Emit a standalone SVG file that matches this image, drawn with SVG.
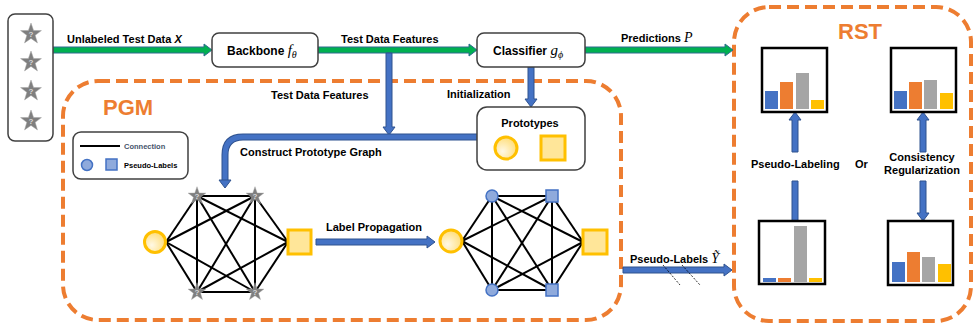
<svg xmlns="http://www.w3.org/2000/svg" width="977" height="327" viewBox="0 0 977 327">
<style>
text{font-family:"Liberation Sans",Arial,sans-serif;font-weight:bold;fill:#000}
.lbl{font-size:11px}
.box{fill:#fff;stroke:#404040;stroke-width:1.5}
.dash{fill:none;stroke:#ED7D31;stroke-width:4;stroke-dasharray:12 6}
.ttl{font-size:22px;fill:#ED7D31}
.green{fill:#00B050;stroke:#2E6B8F;stroke-width:1}
.blue{fill:#4472C4;stroke:#2F528F;stroke-width:1}
.edge{stroke:#000;stroke-width:2;fill:none}
.proto{fill:url(#pg);stroke:#FFC000;stroke-width:3}
.psq{fill:#FFE699;stroke:#FFC000;stroke-width:3}
.bn{fill:#8FAADC;stroke:#4472C4;stroke-width:1.5}
.chart{fill:#fff;stroke:#000;stroke-width:2.5}
.q{font-size:8px;fill:#D9D9D9;text-anchor:middle}
.math{font-family:"Liberation Serif","Times New Roman",serif;font-style:italic;font-weight:normal}
</style>
<defs>
<radialGradient id="pg" cx="0.35" cy="0.65" r="0.8">
<stop offset="0" stop-color="#FFF8E5"/>
<stop offset="1" stop-color="#FFD966"/>
</radialGradient>
<path id="star" d="M0,-11 L2.59,-3.56 L10.46,-3.4 L4.18,1.36 L6.47,8.9 L0,4.4 L-6.47,8.9 L-4.18,1.36 L-10.46,-3.4 L-2.59,-3.56Z" fill="#7F7F7F" stroke="#A6A6A6" stroke-width="0.5"/>
</defs>

<rect x="0" y="0" width="977" height="327" fill="#fff"/>

<!-- dashed regions -->
<g id="pgm">
<rect class="dash" x="63" y="81" width="558" height="239" rx="35"/>
<text class="ttl" x="103" y="115">PGM</text>
</g>
<g id="rst">
<rect class="dash" x="734" y="7" width="237" height="314" rx="35"/>
<text class="ttl" x="838" y="39">RST</text>
</g>

<!-- connectors -->
<g id="connectors">
<polygon class="green" points="53,47 204,47 204,44 212,50 204,56 204,53 53,53"/>
<polygon class="green" points="318,47 469,47 469,44 477,50 469,56 469,53 318,53"/>
<polygon class="green" points="585,47 725,47 725,44 733,50 725,56 725,53 585,53"/>
<polygon class="blue" points="386,53 392,53 392,127 395,127 389,135 383,127 386,127"/>
<polygon class="blue" points="528,67 534,67 534,99 537,99 531,107 525,99 528,99"/>
<path d="M477 137 H243 Q225 137 225 155 V181" fill="none" stroke="#2F528F" stroke-width="7"/>
<path d="M477 137 H243 Q225 137 225 155 V181" fill="none" stroke="#4472C4" stroke-width="5"/>
<polygon class="blue" points="219,180 231,180 225,188"/>
<polygon class="blue" points="316,239 427,239 427,236 435,242 427,248 427,245 316,245"/>
<polygon class="blue" points="623,267 724,267 724,264 732,270 724,276 724,273 623,273"/>
<line x1="663" y1="265" x2="680" y2="285" stroke="#000" stroke-width="0.8" stroke-dasharray="2 1.5"/>
<line x1="682" y1="265" x2="700" y2="285" stroke="#000" stroke-width="0.8" stroke-dasharray="2 1.5"/>
<polygon class="blue" points="795,112 801,120 798,120 798,152 792,152 792,120 789,120"/>
<polygon class="blue" points="792,181 798,181 798,221 792,221"/>
<polygon class="blue" points="923,112 929,120 926,120 926,152 920,152 920,120 917,120"/>
<polygon class="blue" points="920,181 926,181 926,213 929,213 923,221 917,213 920,213"/>
<text class="lbl" x="67" y="43">Unlabeled Test Data <tspan font-style="italic">X</tspan></text>
<text class="lbl" x="341" y="43">Test Data Features</text>
<text class="lbl" x="621" y="42">Predictions <tspan class="math" font-size="14">P</tspan></text>
<text class="lbl" x="271" y="99">Test Data Features</text>
<text class="lbl" x="447" y="98">Initialization</text>
<text class="lbl" x="240" y="156">Construct Prototype Graph</text>
<text class="lbl" x="326" y="231">Label Propagation</text>
<text class="lbl" x="630" y="263">Pseudo-Labels <tspan class="math" font-size="14">Ỹ</tspan></text>
<text class="lbl" x="751" y="168">Pseudo-Labeling</text>
<text class="lbl" x="855" y="168">Or</text>
<text class="lbl" x="922" y="161" text-anchor="middle">Consistency</text>
<text class="lbl" x="922" y="174" text-anchor="middle">Regularization</text>
</g>

<!-- input data -->
<g id="input">
<rect class="box" x="8" y="14" width="45" height="127" rx="7"/>
<use href="#star" x="31" y="34"/><text class="q" x="31" y="37">?</text>
<use href="#star" x="31" y="62"/><text class="q" x="31" y="65">?</text>
<use href="#star" x="31" y="91"/><text class="q" x="31" y="94">?</text>
<use href="#star" x="31" y="121"/><text class="q" x="31" y="124">?</text>
</g>

<g id="backbone">
<rect class="box" x="212" y="33" width="106" height="34" rx="7"/>
<text x="227" y="55" font-size="12">Backbone <tspan class="math" font-size="15">f</tspan><tspan class="math" font-size="10" dy="3">θ</tspan></text>
</g>

<g id="classifier">
<rect class="box" x="477" y="33" width="108" height="34" rx="7"/>
<text x="493" y="55" font-size="12">Classifier <tspan class="math" font-size="15">g</tspan><tspan class="math" font-size="10" dy="3">ϕ</tspan></text>
</g>

<g id="prototypes">
<rect class="box" x="477" y="107" width="108" height="63" rx="10"/>
<text class="lbl" x="530" y="127" text-anchor="middle">Prototypes</text>
<circle class="proto" cx="506" cy="148" r="11"/>
<rect class="psq" x="541" y="136" width="24" height="24"/>
</g>

<g id="legend">
<rect class="box" x="73" y="132" width="115" height="47" rx="8"/>
<line x1="80" y1="146" x2="120" y2="146" stroke="#000" stroke-width="2"/>
<text x="124" y="149" font-size="7.5" fill="#44546A" style="fill:#44546A">Connection</text>
<circle class="bn" cx="87" cy="165" r="5.5"/>
<rect class="bn" x="106" y="159" width="11" height="11"/>
<text x="124" y="168" font-size="7.5">Pseudo-Labels</text>
</g>

<g id="graph1">
<line class="edge" x1="166" y1="242" x2="197" y2="196"/>
<line class="edge" x1="166" y1="242" x2="255" y2="196"/>
<line class="edge" x1="166" y1="242" x2="197" y2="292"/>
<line class="edge" x1="166" y1="242" x2="255" y2="292"/>
<line class="edge" x1="288" y1="242" x2="197" y2="196"/>
<line class="edge" x1="288" y1="242" x2="255" y2="196"/>
<line class="edge" x1="288" y1="242" x2="197" y2="292"/>
<line class="edge" x1="288" y1="242" x2="255" y2="292"/>
<line class="edge" x1="197" y1="196" x2="255" y2="196"/>
<line class="edge" x1="197" y1="292" x2="255" y2="292"/>
<line class="edge" x1="197" y1="196" x2="197" y2="292"/>
<line class="edge" x1="255" y1="196" x2="255" y2="292"/>
<line class="edge" x1="197" y1="196" x2="255" y2="292"/>
<line class="edge" x1="255" y1="196" x2="197" y2="292"/>
<circle class="proto" cx="155" cy="242" r="10.5"/>
<rect class="psq" x="288" y="230" width="23" height="24"/>
<use href="#star" transform="translate(197 196) scale(0.85)"/><text class="q" x="197" y="199" font-size="7">?</text>
<use href="#star" transform="translate(255 196) scale(0.85)"/><text class="q" x="255" y="199" font-size="7">?</text>
<use href="#star" transform="translate(197 292) scale(0.85)"/><text class="q" x="197" y="295" font-size="7">?</text>
<use href="#star" transform="translate(255 292) scale(0.85)"/><text class="q" x="255" y="295" font-size="7">?</text>
</g>

<g id="graph2">
<line class="edge" x1="462" y1="241" x2="492" y2="196"/>
<line class="edge" x1="462" y1="241" x2="552" y2="196"/>
<line class="edge" x1="462" y1="241" x2="492" y2="290"/>
<line class="edge" x1="462" y1="241" x2="552" y2="290"/>
<line class="edge" x1="583" y1="242" x2="492" y2="196"/>
<line class="edge" x1="583" y1="242" x2="552" y2="196"/>
<line class="edge" x1="583" y1="242" x2="492" y2="290"/>
<line class="edge" x1="583" y1="242" x2="552" y2="290"/>
<line class="edge" x1="492" y1="196" x2="552" y2="196"/>
<line class="edge" x1="492" y1="290" x2="552" y2="290"/>
<line class="edge" x1="492" y1="196" x2="492" y2="290"/>
<line class="edge" x1="552" y1="196" x2="552" y2="290"/>
<line class="edge" x1="492" y1="196" x2="552" y2="290"/>
<line class="edge" x1="552" y1="196" x2="492" y2="290"/>
<circle class="proto" cx="451" cy="241" r="11"/>
<rect class="psq" x="583" y="230" width="24" height="24"/>
<circle class="bn" cx="492" cy="196" r="6"/>
<circle class="bn" cx="492" cy="290" r="6"/>
<rect class="bn" x="546" y="190" width="12" height="12"/>
<rect class="bn" x="546" y="284" width="12" height="12"/>
</g>

<g id="chart-tl">
<rect class="chart" x="762" y="48" width="65" height="64"/>
<rect x="765" y="91" width="13" height="18" fill="#4472C4"/>
<rect x="780" y="82" width="13" height="27" fill="#ED7D31"/>
<rect x="796" y="73" width="13" height="36" fill="#A5A5A5"/>
<rect x="811" y="100" width="13" height="9" fill="#FFC000"/>
</g>
<g id="chart-tr">
<rect class="chart" x="891" y="48" width="65" height="64"/>
<rect x="894" y="91" width="13" height="18" fill="#4472C4"/>
<rect x="909" y="82" width="13" height="27" fill="#ED7D31"/>
<rect x="924" y="80" width="13" height="29" fill="#A5A5A5"/>
<rect x="940" y="93" width="13" height="16" fill="#FFC000"/>
</g>
<g id="chart-bl">
<rect class="chart" x="759" y="221" width="66" height="63"/>
<rect x="763" y="278" width="13" height="4" fill="#4472C4"/>
<rect x="778" y="278" width="13" height="4" fill="#ED7D31"/>
<rect x="794" y="226" width="13" height="56" fill="#A5A5A5"/>
<rect x="809" y="278" width="13" height="4" fill="#FFC000"/>
</g>
<g id="chart-br">
<rect class="chart" x="888" y="221" width="65" height="64"/>
<rect x="892" y="262" width="13" height="20" fill="#4472C4"/>
<rect x="907" y="252" width="13" height="30" fill="#ED7D31"/>
<rect x="922" y="257" width="13" height="25" fill="#A5A5A5"/>
<rect x="938" y="264" width="13" height="18" fill="#FFC000"/>
</g>
</svg>
